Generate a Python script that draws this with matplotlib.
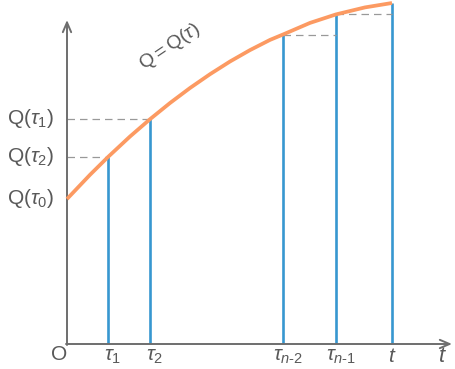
import matplotlib.pyplot as plt

plt.rcParams["font.family"] = ["Liberation Sans", "DejaVu Sans"]
plt.rcParams["mathtext.fontset"] = "custom"
plt.rcParams["mathtext.rm"] = "Liberation Sans"
plt.rcParams["mathtext.it"] = "Liberation Sans:italic"

# curve Q = Q(tau)
curve_t = [0, 23, 41, 63, 83, 103, 123, 143, 163, 183, 203, 216, 243, 269, 298, 325]
curve_q = [145, 169.2, 187, 207.5, 224.8, 241, 256, 269.8, 282.5, 293.9, 304.1, 309.5,
           321.1, 329.6, 336.6, 341]

# partition points and their values
tau_pos = [41, 83, 216, 269, 325]
tau_q = [187, 224.8, 309.5, 329.6, 341]
tau_labels = [r"$\tau_{\mathrm{1}}$", r"$\tau_{\mathrm{2}}$", r"$\tau_{n\text{-}2}$",
              r"$\tau_{n\text{-}1}$", r"$t$"]

# y-axis labels and heights (label order as in the original)
q_labels = [r"$\mathrm{Q(}\tau_{\mathrm{1}}\mathrm{)}$", r"$\mathrm{Q(}\tau_{\mathrm{2}}\mathrm{)}$",
            r"$\mathrm{Q(}\tau_{\mathrm{0}}\mathrm{)}$"]
q_label_vals = [225, 187, 145]

ORANGE = "#fc9a62"
BLUE = "#3797d0"
GRAY = "#6e6e6e"
TEXT = "#595959"

fig = plt.figure(figsize=(4.55, 3.69), dpi=100)
ax = fig.add_axes([0, 0, 1, 1])
ax.set_xlim(-67, 388)
ax.set_ylim(-25, 344)
ax.axis("off")

# axes with arrows
arrow = dict(arrowstyle="->,head_length=0.7,head_width=0.3", color=GRAY, lw=1.4,
             shrinkA=0, shrinkB=0)
ax.annotate("", xy=(385, 0), xytext=(-1, 0), arrowprops=arrow)
ax.annotate("", xy=(0, 324), xytext=(0, -1), arrowprops=arrow)

# vertical segments
ax.vlines(tau_pos, 0, tau_q, color=BLUE, lw=1.9, zorder=2)

# dashed guides
ax.hlines([tau_q[0], tau_q[1]], 0, [tau_pos[0], tau_pos[1]], color="#999999",
          lw=0.9, linestyles=(0, (6, 4)))
ax.hlines([tau_q[2], tau_q[3]], [tau_pos[2], tau_pos[3]], [tau_pos[3], tau_pos[4]],
          color="#999999", lw=0.9, linestyles=(0, (6, 4)))

# the curve
ax.plot(curve_t, curve_q, color=ORANGE, lw=2.7, solid_capstyle="butt", zorder=3)

# labels
for lab, q in zip(q_labels, q_label_vals):
    ax.text(-13, q, lab, ha="right", va="center", fontsize=15, color=TEXT)

for lab, t in zip(tau_labels, tau_pos):
    ax.text(t + (5 if t != tau_pos[-1] else 0), -12, lab, ha="center", va="center",
            fontsize=15, color=TEXT)

ax.text(-8, -10, "O", ha="center", va="center", fontsize=15, color=TEXT)
ax.text(375, -12, r"$t$", ha="center", va="center", fontsize=16, color=TEXT)
ax.text(103, 297, r"$\mathrm{Q{=}Q(}\tau\mathrm{)}$", ha="center", va="center",
        fontsize=14, color=TEXT, rotation=34)

fig.savefig("out.png", dpi=100)
